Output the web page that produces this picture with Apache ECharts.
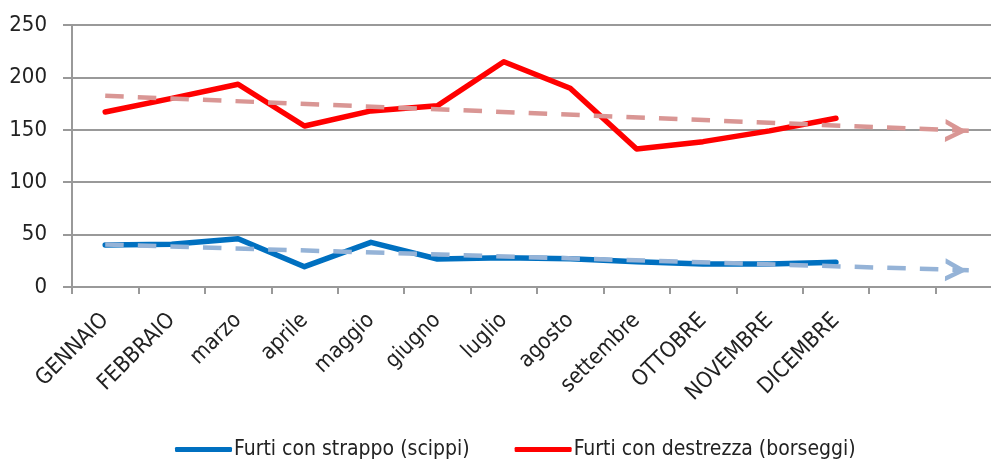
<!DOCTYPE html>
<html>
<head>
<meta charset="utf-8">
<script src="https://cdn.jsdelivr.net/npm/echarts@6/dist/echarts.min.js"></script>
<style>
html,body{margin:0;padding:0;background:#fff;overflow:hidden;}
#chart{width:1002px;height:462px;}
</style>
</head>
<body>
<div id="chart"></div>
<script>
const categories = ['GENNAIO','FEBBRAIO','marzo','aprile','maggio','giugno','luglio','agosto','settembre','OTTOBRE','NOVEMBRE','DICEMBRE','',''];
const scippi = [40, 40.7, 46, 19.4, 42.6, 26.7, 28, 27, 24.2, 22, 22, 23.6];
const borseggi = [167, 180, 193.5, 153.6, 168, 173, 215, 189.6, 131.7, 138.7, 149, 161];
// trend lines: [value at GENNAIO, value at forecast end]
const trendIdx = [0, 13];
const trendScippi = [40.5, 16];
const trendBorseggi = [182.4, 149];
const yTicks = {min: 0, max: 250, interval: 50};

const FONT = "'Liberation Sans Narrow', 'DejaVu Sans Condensed', 'Roboto Condensed', sans-serif";
const chevron = 'path://M0,10 L5,0 L10,10 L7.8,10 L5,4.4 L2.2,10 Z';

function trendSeries(vals, color) {
  return {
    type: 'line',
    data: [
      {value: [trendIdx[0], vals[0]], symbol: 'none'},
      {value: [trendIdx[1], vals[1]], symbol: chevron, symbolSize: [23, 22], symbolRotate: -92, symbolOffset: [-12.5, 0]}
    ],
    showSymbol: true,
    lineStyle: {color: color, width: 4.5, type: [18.5, 14.1], dashOffset: 0},
    itemStyle: {color: color},
    z: 5,
    silent: true,
    animation: false
  };
}

const chart = echarts.init(document.getElementById('chart'), null, {renderer: 'canvas'});
chart.setOption({
  animation: false,
  textStyle: {fontFamily: FONT},
  grid: {left: 72, top: 25, bottom: 175, right: 0},
  legend: {
    data: ['Furti con strappo (scippi)', 'Furti con destrezza (borseggi)'],
    top: 434,
    left: 170,
    itemWidth: 57,
    itemHeight: 5,
    itemGap: 45,
    icon: 'roundRect',
    textStyle: {fontFamily: FONT, fontSize: 21, color: '#222', padding: [0, 0, 0, -3]}
  },
  xAxis: {
    type: 'category',
    data: categories,
    boundaryGap: true,
    axisLine: {lineStyle: {color: '#999', width: 2}},
    axisTick: {show: true, length: 7, lineStyle: {color: '#999', width: 2}},
    axisLabel: {rotate: 45, margin: 30, fontFamily: FONT, fontSize: 22, color: '#222', interval: 0}
  },
  yAxis: {
    type: 'value',
    min: yTicks.min, max: yTicks.max, interval: yTicks.interval,
    axisLine: {show: true, lineStyle: {color: '#999', width: 2}},
    axisTick: {show: true, length: 9, lineStyle: {color: '#999', width: 2}},
    splitLine: {lineStyle: {color: '#999', width: 2}},
    axisLabel: {margin: 25, fontFamily: FONT, fontSize: 22, color: '#222'}
  },
  series: [
    {
      name: 'Furti con strappo (scippi)',
      type: 'line', data: scippi, symbol: 'none',
      lineStyle: {color: '#0070C0', width: 5.5, cap: 'round', join: 'round'},
      itemStyle: {color: '#0070C0'}, z: 3
    },
    {
      name: 'Furti con destrezza (borseggi)',
      type: 'line', data: borseggi, symbol: 'none',
      lineStyle: {color: '#FF0000', width: 5.5, cap: 'round', join: 'round'},
      itemStyle: {color: '#FF0000'}, z: 3
    },
    Object.assign(trendSeries(trendScippi, '#95B3D7'), {name: 'trend scippi'}),
    Object.assign(trendSeries(trendBorseggi, '#D99694'), {name: 'trend borseggi'})
  ]
});
</script>
</body>
</html>
